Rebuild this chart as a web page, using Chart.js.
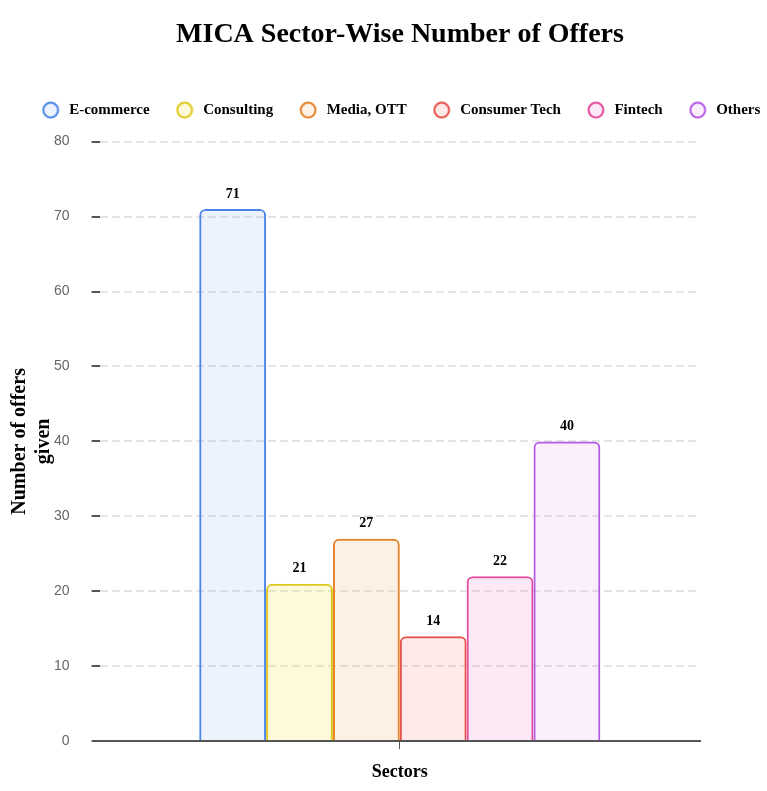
<!DOCTYPE html>
<html>
<head>
<meta charset="utf-8">
<title>MICA Sector-Wise Number of Offers</title>
<script src="https://cdn.jsdelivr.net/npm/chart.js@4.4.0/dist/chart.umd.min.js"></script>
<style>
  html, body { margin: 0; padding: 0; background: #fff; overflow: hidden; }
  #wrap { width: 800px; height: 791px; position: relative; }
</style>
</head>
<body>
<div id="wrap"><canvas id="sectorChart"></canvas></div>
<script>
// sectors and offers
const sectors = ["E-commerce", "Consulting", "Media, OTT", "Consumer Tech", "Fintech", "Others"];
const offers = [71, 21, 27, 14, 22, 40];
const yTicks = [0, 10, 20, 30, 40, 50, 60, 70, 80];

const borderColors = ["#4a86e8", "#e0c81a", "#e5822a", "#e8504c", "#e34d9e", "#b45ae6"];
const fillColors = [
  "rgba(74,134,232,0.1)",
  "rgba(250,220,40,0.18)",
  "rgba(240,140,50,0.12)",
  "rgba(240,80,76,0.12)",
  "rgba(235,77,170,0.12)",
  "rgba(215,100,245,0.1)"
];

const serif = "'Times New Roman', 'Liberation Serif', serif";

// one bar per dataset, all in the same (blank) category
const datasets = sectors.map(function (name, i) {
  return {
    label: name,
    data: [offers[i]],
    backgroundColor: fillColors[i],
    borderColor: borderColors[i],
    borderWidth: 2,
    borderRadius: 6,
    borderSkipped: "bottom",
    categoryPercentage: 0.668,
    barPercentage: 1
  };
});

// small round legend markers
function circleMarker(stroke, fill) {
  const cv = document.createElement("canvas");
  cv.width = 18;
  cv.height = 18;
  const g = cv.getContext("2d");
  g.beginPath();
  g.arc(9, 9, 7.4, 0, Math.PI * 2);
  g.fillStyle = "#fff";
  g.fill();
  g.fillStyle = fill;
  g.fill();
  g.lineWidth = 2;
  g.strokeStyle = stroke;
  g.stroke();
  return cv;
}
const markers = sectors.map(function (s, i) { return circleMarker(borderColors[i], fillColors[i]); });

// draw the number above each bar
const valueLabels = {
  id: "valueLabels",
  afterDatasetsDraw(chart) {
    const c = chart.ctx;
    c.save();
    c.font = "bold 14px " + serif;
    c.fillStyle = "#000";
    c.textAlign = "center";
    c.textBaseline = "bottom";
    chart.data.datasets.forEach(function (ds, i) {
      chart.getDatasetMeta(i).data.forEach(function (bar, j) {
        c.fillText(ds.data[j], bar.x, bar.y - 8);
      });
    });
    c.restore();
  }
};

const ctx = document.getElementById("sectorChart").getContext("2d");
const sectorChart = new Chart(ctx, {
  type: "bar",
  data: { labels: [""], datasets: datasets },
  plugins: [valueLabels],
  options: {
    responsive: true,
    maintainAspectRatio: false,
    animation: false,
    layout: { padding: { left: 0, right: 0, top: 8, bottom: 8 } },
    plugins: {
      title: {
        display: true,
        text: "MICA Sector-Wise Number of Offers",
        color: "#000",
        font: { family: serif, size: 28, weight: "bold" },
        padding: { top: 10, bottom: 27 }
      },
      legend: {
        position: "top",
        labels: {
          usePointStyle: true,
          pointStyleWidth: 22,
          padding: 24,
          color: "#000",
          font: { family: serif, size: 15, weight: "bold" },
          generateLabels: function (chart) {
            const items = Chart.defaults.plugins.legend.labels.generateLabels(chart);
            items.forEach(function (it) { it.pointStyle = markers[it.datasetIndex]; });
            return items;
          }
        }
      },
      tooltip: { enabled: false }
    },
    scales: {
      x: {
        grid: {
          offset: false,
          drawOnChartArea: false,
          drawTicks: true,
          tickLength: 8,
          tickColor: "#555"
        },
        border: { display: true, color: "#555", width: 2 },
        ticks: { display: true, padding: 0, font: { size: 1 } },
        title: {
          display: true,
          text: "Sectors",
          color: "#000",
          font: { family: serif, size: 18, weight: "bold" },
          padding: { top: 11, bottom: 0 }
        }
      },
      // empty space between legend and plot
      xTop: {
        position: "top",
        grid: { display: false },
        border: { display: false },
        ticks: { display: false },
        afterFit: function (s) { s.height = 14; }
      },
      y: {
        min: yTicks[0],
        max: yTicks[yTicks.length - 1],
        afterBuildTicks: function (axis) {
          axis.ticks = yTicks.map(function (v) { return { value: v }; });
        },
        grid: {
          color: function (c) { return c.tick && c.tick.value === 0 ? "#555" : "rgba(0,0,0,0.1)"; },
          lineWidth: 2,
          tickColor: "#555",
          tickLength: 8
        },
        border: {
          display: false,
          dash: function (c) { return c.tick && c.tick.value === 0 ? [] : [8, 4]; }
        },
        ticks: {
          color: "#666",
          padding: 22,
          font: { size: 14 }
        },
        title: {
          display: true,
          text: ["Number of offers", "given"],
          color: "#000",
          font: { family: serif, size: 20, weight: "bold" },
          padding: { top: 8, bottom: -24 }
        }
      },
      // empty space on the right of the plot
      yRight: {
        position: "right",
        grid: { display: false },
        border: { display: false },
        ticks: { display: false },
        afterFit: function (s) { s.width = 100; }
      }
    }
  }
});
</script>
</body>
</html>
